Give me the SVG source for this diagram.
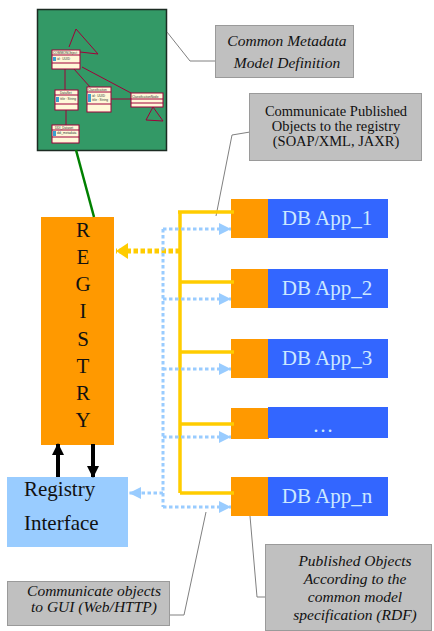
<svg xmlns="http://www.w3.org/2000/svg" width="434" height="631" viewBox="0 0 434 631">
  <style>
    text { font-family: 'Liberation Serif', 'Times New Roman', 'DejaVu Serif', serif; }
    .note { fill: #c0c0c0; stroke: #9a9a9a; stroke-width: 1; }
    .note-text { font-size: 15.5px; fill: #111; text-anchor: middle; }
    .note-small { font-size: 14.5px; fill: #111; text-anchor: middle; }
    .leader { fill: none; stroke: #808080; stroke-width: 1; }
    .reg-letter { font-size: 21px; fill: #111; text-anchor: middle; }
    .app-key { fill: #ff9900; }
    .app-body { fill: #3366ff; }
    .app-text { font-size: 21px; fill: #cce8ff; text-anchor: middle; }
    .uml-box { fill: #fff8d8; stroke: #a0003a; stroke-width: 1; }
    .uml-line { fill: none; stroke: #a0003a; stroke-width: 1; }
    text.uml-text { font-family: 'Liberation Sans', Arial, sans-serif; font-size: 3.2px; fill: #333; }
    .pub { fill: none; stroke: #ffcc00; stroke-width: 3.5; }
    .pub-dot { fill: none; stroke: #ffcc00; stroke-width: 5; stroke-dasharray: 4.5 2.5; }
    .gui-dot { fill: none; stroke: #99ccff; stroke-width: 3; stroke-dasharray: 3.5 2.5; }
    .sync { fill: none; stroke: #000; stroke-width: 4; }
  </style>
  <defs>
    <marker id="head-blue" markerUnits="userSpaceOnUse" markerWidth="13" markerHeight="12" refX="12" refY="6" orient="auto">
      <path d="M0,0 L12,6 L0,12 Z" fill="#99ccff"/>
    </marker>
    <marker id="head-yellow" markerUnits="userSpaceOnUse" markerWidth="13" markerHeight="16" refX="12" refY="8" orient="auto">
      <path d="M0,0 L12,8 L0,16 Z" fill="#ffcc00"/>
    </marker>
    <marker id="head-black" markerUnits="userSpaceOnUse" markerWidth="13" markerHeight="12" refX="11" refY="6" orient="auto">
      <path d="M0,0 L12,6 L0,12 Z" fill="#000"/>
    </marker>
  </defs>

  <rect width="434" height="631" fill="#fff"/>

  <!-- common metadata model (UML class diagram) -->
  <g id="model">
    <rect x="37.5" y="9.5" width="129" height="141" fill="#339966" stroke="#1b2b22" stroke-width="1.5"/>
    <!-- associations -->
    <path class="uml-line" d="M69,47 L76,29 L98,54 L80,52"/>
    <path class="uml-line" d="M65,69 L65,90"/>
    <path class="uml-line" d="M66,110 L66,125"/>
    <path class="uml-line" d="M74,69 L90,87"/>
    <path class="uml-line" d="M82,67 L131,93"/>
    <path class="uml-line" d="M111,99 L131,99"/>
    <path class="uml-line" d="M153,107 L146,120 L163,121 Z"/>
    <!-- classes -->
    <rect class="uml-box" x="52" y="50" width="28" height="19"/>
    <line class="uml-line" x1="52" y1="55" x2="80" y2="55"/>
    <line class="uml-line" x1="52" y1="63" x2="80" y2="63"/>
    <text class="uml-text" x="53" y="54">COMMONObject</text>
    <rect x="53" y="57" width="3" height="4" fill="#3aa0d0"/>
    <text class="uml-text" x="57" y="60">id : UUID</text>

    <rect class="uml-box" x="55" y="90" width="23" height="20"/>
    <line class="uml-line" x1="55" y1="95" x2="78" y2="95"/>
    <line class="uml-line" x1="55" y1="104" x2="78" y2="104"/>
    <text class="uml-text" x="60" y="94">DataSet</text>
    <rect x="56" y="97" width="3" height="5" fill="#3aa0d0"/>
    <text class="uml-text" x="60" y="100">title : String</text>

    <rect class="uml-box" x="87" y="87" width="24" height="25"/>
    <line class="uml-line" x1="87" y1="92" x2="111" y2="92"/>
    <line class="uml-line" x1="87" y1="104" x2="111" y2="104"/>
    <text class="uml-text" x="88" y="91">Classification</text>
    <rect x="88" y="94" width="3" height="8" fill="#3aa0d0"/>
    <text class="uml-text" x="92" y="97">id : UUID</text>
    <text class="uml-text" x="92" y="101">title : String</text>

    <rect class="uml-box" x="131" y="93" width="32" height="14"/>
    <line class="uml-line" x1="131" y1="99" x2="163" y2="99"/>
    <line class="uml-line" x1="131" y1="103" x2="163" y2="103"/>
    <text class="uml-text" x="132" y="97.5">ClassificationNode</text>

    <rect class="uml-box" x="52" y="125" width="27" height="18"/>
    <line class="uml-line" x1="52" y1="130" x2="79" y2="130"/>
    <line class="uml-line" x1="52" y1="137" x2="79" y2="137"/>
    <text class="uml-text" x="55" y="129">DDI_Dataset</text>
    <rect x="53" y="131" width="3" height="5" fill="#3aa0d0"/>
    <text class="uml-text" x="57" y="134">ddi_metadata</text>
  </g>

  <!-- callouts -->
  <g id="note-model">
    <path class="leader" d="M167,32 L190,61 L215,61"/>
    <rect class="note" x="215.5" y="25.5" width="138" height="52"/>
    <text class="note-text" x="287" y="46" font-style="italic">Common Metadata</text>
    <text class="note-text" x="287" y="68" font-style="italic">Model  Definition</text>
  </g>

  <g id="note-publish">
    <path class="leader" d="M250,132 L232,135 L216,216"/>
    <rect class="note" x="249.5" y="93.5" width="172" height="67"/>
    <text class="note-small" x="336" y="116">Communicate Published</text>
    <text class="note-small" x="336" y="131">Objects to the registry</text>
    <text class="note-small" x="336" y="146">(SOAP/XML, JAXR)</text>
  </g>

  <g id="note-gui">
    <path class="leader" d="M206,512 L184,615 L163,615"/>
    <rect class="note" x="7.5" y="581.5" width="162" height="44"/>
    <text class="note-text" x="94" y="596" font-style="italic">Communicate  objects</text>
    <text class="note-text" x="94" y="612" font-style="italic">to GUI (Web/HTTP)</text>
  </g>

  <g id="note-rdf">
    <path class="leader" d="M250,516 L257,597 L265,597"/>
    <rect class="note" x="265.5" y="544.5" width="166" height="86"/>
    <text class="note-text" x="355" y="566" font-style="italic">Published Objects</text>
    <text class="note-text" x="355" y="584" font-style="italic">According to the</text>
    <text class="note-text" x="355" y="602" font-style="italic">common model</text>
    <text class="note-text" x="355" y="620" font-style="italic">specification (RDF)</text>
  </g>

  <!-- registry -->
  <g id="registry">
    <rect x="41" y="217" width="73" height="228" fill="#ff9900"/>
    <text class="reg-letter" x="83" y="237">R</text>
    <text class="reg-letter" x="83" y="264">E</text>
    <text class="reg-letter" x="83" y="291">G</text>
    <text class="reg-letter" x="83" y="318">I</text>
    <text class="reg-letter" x="83" y="346">S</text>
    <text class="reg-letter" x="83" y="373">T</text>
    <text class="reg-letter" x="83" y="400">R</text>
    <text class="reg-letter" x="83" y="427">Y</text>
  </g>

  <g id="registry-interface">
    <rect x="7" y="477" width="121" height="70" fill="#99ccff"/>
    <text x="24" y="496" font-size="21" fill="#111">Registry</text>
    <text x="24" y="530" font-size="21" fill="#111">Interface</text>
  </g>

  <!-- database applications -->
  <g id="app-1">
    <rect class="app-key" x="231" y="199" width="38" height="39"/>
    <rect class="app-body" x="268" y="199" width="120" height="39"/>
    <text class="app-text" x="327" y="225">DB App_1</text>
  </g>
  <g id="app-2">
    <rect class="app-key" x="231" y="269" width="38" height="39"/>
    <rect class="app-body" x="268" y="269" width="120" height="39"/>
    <text class="app-text" x="327" y="295">DB App_2</text>
  </g>
  <g id="app-3">
    <rect class="app-key" x="231" y="339" width="38" height="39"/>
    <rect class="app-body" x="268" y="339" width="120" height="39"/>
    <text class="app-text" x="327" y="365">DB App_3</text>
  </g>
  <g id="app-more">
    <rect class="app-key" x="231" y="408" width="38" height="31"/>
    <rect class="app-body" x="268" y="407" width="120" height="31"/>
    <text class="app-text" x="323" y="432" font-size="16">…</text>
  </g>
  <g id="app-n">
    <rect class="app-key" x="231" y="477" width="38" height="39"/>
    <rect class="app-body" x="268" y="477" width="120" height="39"/>
    <text class="app-text" x="327" y="503">DB App_n</text>
  </g>

  <!-- connectors -->
  <g id="connectors">
    <!-- model to registry -->
    <path d="M76,150 L94,217" fill="none" stroke="#008000" stroke-width="2.5"/>

    <!-- publishing bus (yellow) -->
    <path class="pub" d="M180,212 L180,493"/>
    <path class="pub" d="M178,212 L234,212"/>
    <path class="pub" d="M180,282 L234,282"/>
    <path class="pub" d="M180,352 L234,352"/>
    <path class="pub" d="M180,424 L234,424"/>
    <path class="pub" d="M180,493 L234,493"/>
    <path class="pub-dot" d="M180,251 L116,251" marker-end="url(#head-yellow)"/>

    <!-- GUI bus (light blue) -->
    <path class="gui-dot" d="M163,229 L163,507"/>
    <path class="gui-dot" d="M163,229 L231,229" marker-end="url(#head-blue)"/>
    <path class="gui-dot" d="M163,299 L231,299" marker-end="url(#head-blue)"/>
    <path class="gui-dot" d="M163,369 L231,369" marker-end="url(#head-blue)"/>
    <path class="gui-dot" d="M163,437 L231,437" marker-end="url(#head-blue)"/>
    <path class="gui-dot" d="M163,507 L231,507" marker-end="url(#head-blue)"/>
    <path class="gui-dot" d="M163,493 L129,493" marker-end="url(#head-blue)"/>

    <!-- registry <-> interface -->
    <path class="sync" d="M58,477 L58,444" marker-end="url(#head-black)"/>
    <path class="sync" d="M93,444 L93,477" marker-end="url(#head-black)"/>
  </g>
</svg>
